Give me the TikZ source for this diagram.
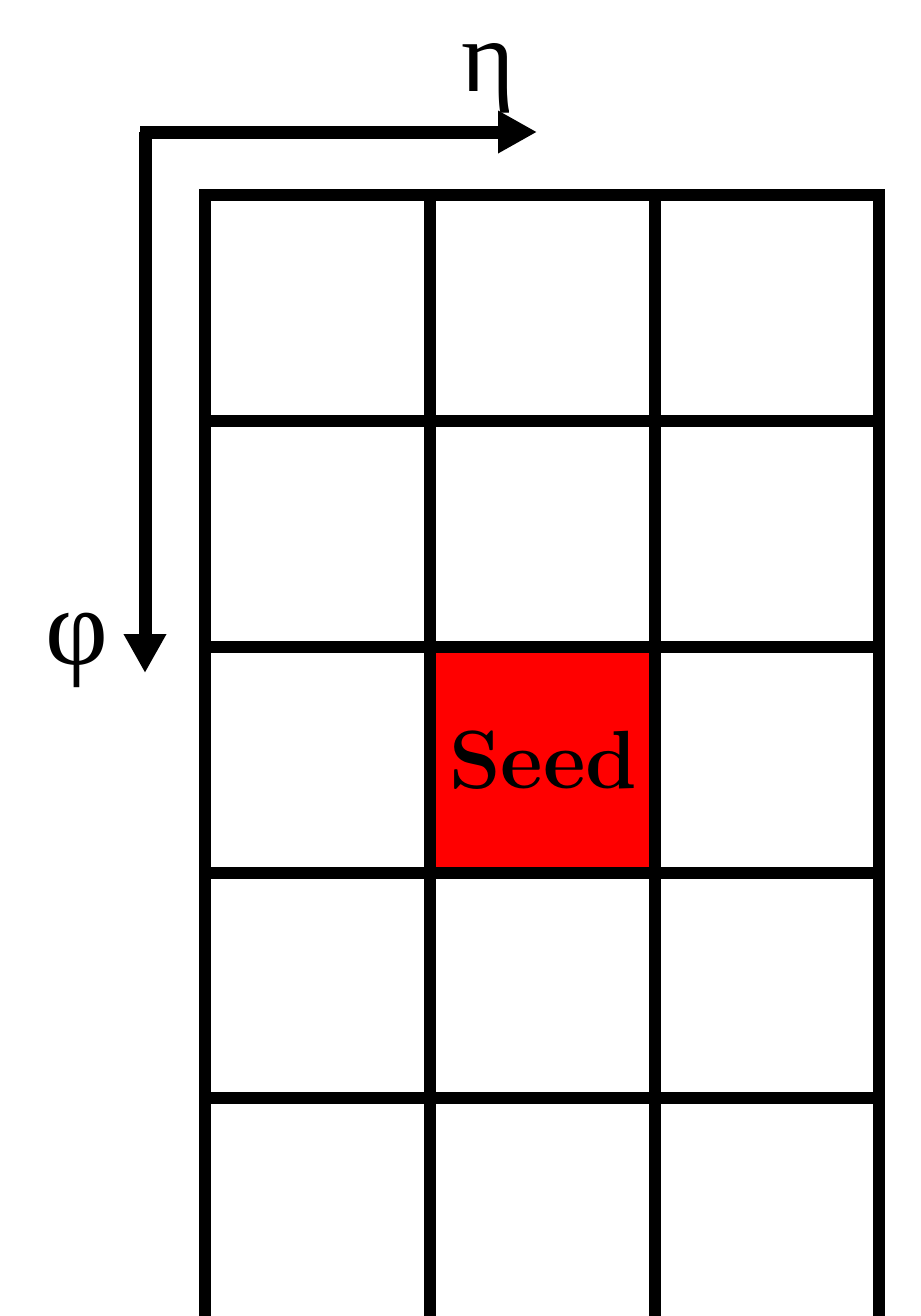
\documentclass[tikz,border=0pt]{standalone}
\usepackage{fontspec}
\newfontfamily\greekfont{Liberation Serif}
\usetikzlibrary{arrows.meta}

\tikzset{
  gridline/.style={line width=0.12cm, line cap=rect},
  axisline/.style={line width=0.13cm, -{Triangle[length=0.39cm,width=0.40cm]}},
  seedcell/.style={fill=red},
  axislabel/.style={font=\greekfont\fontsize{31}{34}\selectfont, inner sep=0pt}
}

\begin{document}
\begin{tikzpicture}[x=1cm,y=-1cm]
  \useasboundingbox (0,0) rectangle (9.21,13.16);
  % seed cell
  \fill[seedcell] (4.30,6.47) rectangle (6.55,8.73);
  \node[font=\bfseries\fontsize{23.5}{28}\selectfont, inner sep=0pt] (seed) at (5.43,7.60) {Seed};
  % grid
  \draw[gridline] (2.05,1.95) -- (8.79,1.95);
  \draw[gridline] (2.05,4.21) -- (8.79,4.21);
  \draw[gridline] (2.05,6.47) -- (8.79,6.47);
  \draw[gridline] (2.05,8.73) -- (8.79,8.73);
  \draw[gridline] (2.05,10.98) -- (8.79,10.98);
  \draw[gridline] (2.05,1.95) -- (2.05,13.4);
  \draw[gridline] (4.30,1.95) -- (4.30,13.4);
  \draw[gridline] (6.55,1.95) -- (6.55,13.4);
  \draw[gridline] (8.79,1.95) -- (8.79,13.4);
  % axes
  \coordinate (corner) at (1.40,1.32);
  \coordinate (etaend) at (5.37,1.32);
  \coordinate (phicorner) at (1.45,1.32);
  \coordinate (phiend) at (1.45,6.73);
  \draw[axisline] (corner) -- (etaend);
  \draw[axisline] (phicorner) -- (phiend);
  \node[axislabel, font=\greekfont\fontsize{29}{32}\selectfont] (eta) at (4.88,0.78) {η};
  \node[axislabel] (phi) at (0.77,6.50) {φ};
\end{tikzpicture}
\end{document}
